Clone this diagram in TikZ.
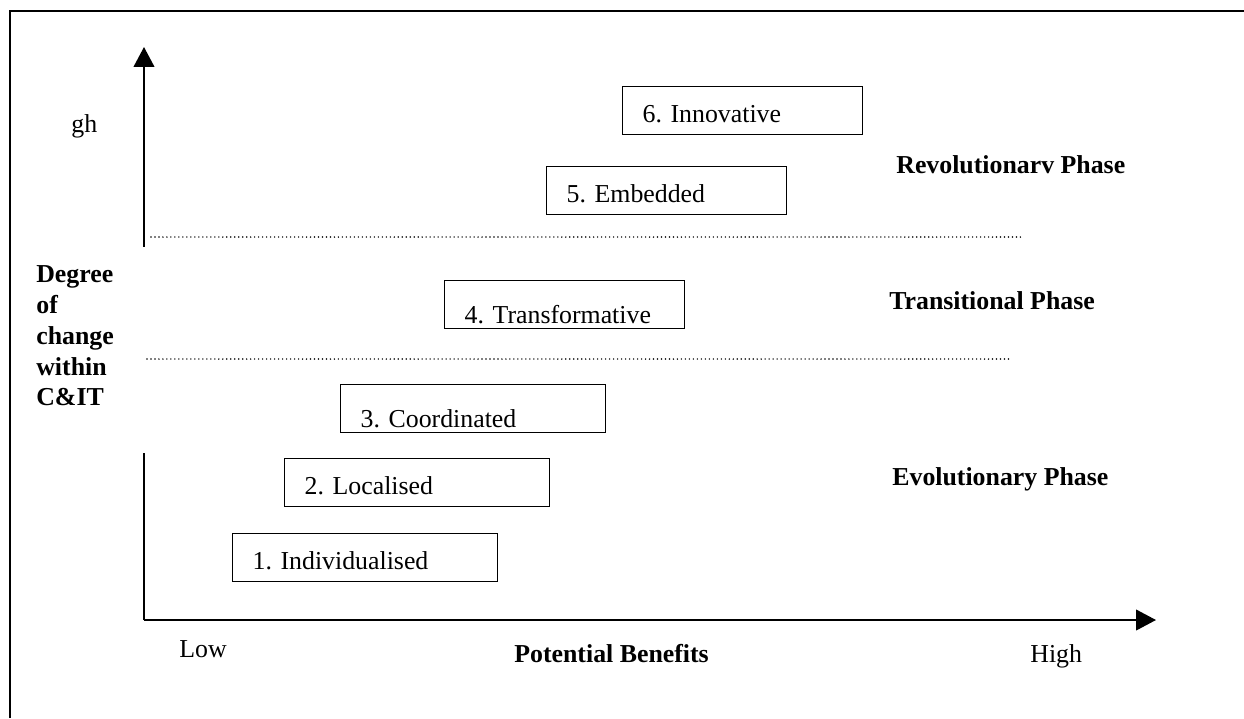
\documentclass[tikz,border=0pt]{standalone}
\usepackage{fontspec}
\setmainfont{Liberation Serif}
\usetikzlibrary{arrows.meta}

\begin{document}
\begin{tikzpicture}[x=.02cm, y=-.02cm,
  every node/.style={inner sep=0, font=\fontsize{14.7}{17.6}\selectfont},
  stage/.style={draw, line width=.75pt, anchor=north west, align=left, inner xsep=.4cm, inner ysep=0},
  phase/.style={anchor=base west, font=\fontsize{14.7}{17.6}\selectfont\bfseries},
  axis/.style={line width=1.1pt, -{Triangle[length=11.3pt, width=11.7pt]}},
  sep/.style={line width=.9pt, line cap=round, dash pattern=on 0pt off 2.27pt}]
\useasboundingbox (0,0) rectangle (1244,718);
\draw[line width=1.4pt] (10,718) -- (10,11) -- (1244,11);
\coordinate (o) at (144,620);
\coordinate (ytip) at (144,47);
\coordinate (xtip) at (1156,620);
\draw[axis] (o) -- (ytip);
\draw[axis] (o) -- (xtip);
\fill[white] (20,247) rectangle (146,453);
\draw[sep] (151,237) -- (1021,237);
\draw[sep] (147,359) -- (1012,359);
\foreach \n/\x/\y/\w/\h/\d/\t in {1/232/533/4.5cm/.72cm/.24cm/Individualised,
  2/284/458/4.5cm/.72cm/.24cm/Localised, 3/340/384/4.5cm/.86cm/.1cm/Coordinated,
  4/444/280/4.0cm/.86cm/.1cm/Transformative, 5/546/166/4.0cm/.72cm/.24cm/Embedded,
  6/622/86/4.0cm/.72cm/.24cm/Innovative}
 \node[stage, text width=\w, text height=\h, text depth=\d] (s\n) at (\x,\y) {\n.\ \t};
\node[anchor=base west] (gh) at (71,132) {gh};
\node[phase] (rev) at (896,173) {Revolutionarv Phase};
\node[phase] (tra) at (889,309) {Transitional Phase};
\node[phase] (evo) at (892,485) {Evolutionary Phase};
\node[phase, anchor=north west, align=left] (deg) at (36,265) {Degree\\of\\change\\within\\C\&IT};
\node[anchor=base west] (low) at (179,657) {Low};
\node[phase] (ben) at (514,662) {Potential Benefits};
\node[anchor=base west] (high) at (1030,662) {High};
\end{tikzpicture}
\end{document}
